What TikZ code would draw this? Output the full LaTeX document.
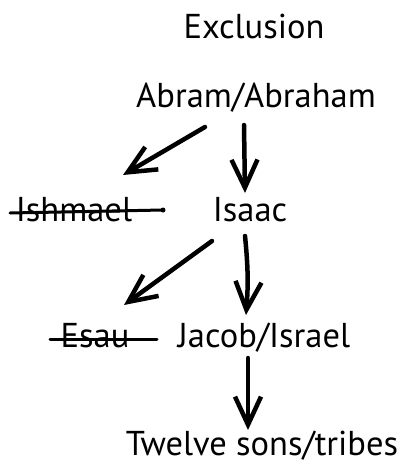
\documentclass[tikz,border=0pt]{standalone}
\usepackage{fontspec}
\setmainfont{PT Sans}
\usetikzlibrary{arrows.meta}

\begin{document}
\begin{tikzpicture}[x=1pt,y=-1pt]
\tikzstyle{every node}+=[inner sep=0pt,anchor=base,text depth=0pt]
\tikzstyle{person}=[font=\fontsize{34.5}{40}\selectfont]
\tikzstyle{arr}=[line width=4.5pt,line cap=round,-{Straight Barb[length=28pt,width=26pt]}]
\tikzstyle{strike}=[line width=3pt,line cap=round]
\useasboundingbox (0,0) rectangle (406,464);
% names
\node[person] (excl) at (254,38) {Exclusion};
\node[person] (abram) at (256,107) {Abram/Abraham};
\node[person] (ishmael) at (74,221) {Ishmael};
\node[person] (isaac) at (250,221) {Isaac};
\node[person] (esau) at (95,347) {Esau};
\node[person] (jacob) at (264,347) {Jacob/Israel};
\node[person] (twelve) at (262,455) {Twelve sons/tribes};
% crossed out
\draw[strike] ([shift={(-64,-8)}]ishmael.base) -- ([shift={(89,-11)}]ishmael.base) coordinate (ishend);
\fill (ishend) circle (2.5);
\draw[strike] ([shift={(-45,-8)}]esau.base) -- ([shift={(62,-8)}]esau.base);
% arrows
\draw[arr] ([shift={(-51,20)}]abram.base) -- ([shift={(49,-46)}]ishmael.base);
\draw[arr] ([shift={(-12,18)}]abram.base) -- ([shift={(-5,-28)}]isaac.base);
\draw[arr] ([shift={(-38,20)}]isaac.base) -- ([shift={(29,-42)}]esau.base);
\draw[arr] ([shift={(-5,15)}]isaac.base) to[bend left=5] ([shift={(-18,-32)}]jacob.base);
\draw[arr] ([shift={(-16,11)}]jacob.base) -- ([shift={(-14,-25)}]twelve.base);
\end{tikzpicture}
\end{document}
